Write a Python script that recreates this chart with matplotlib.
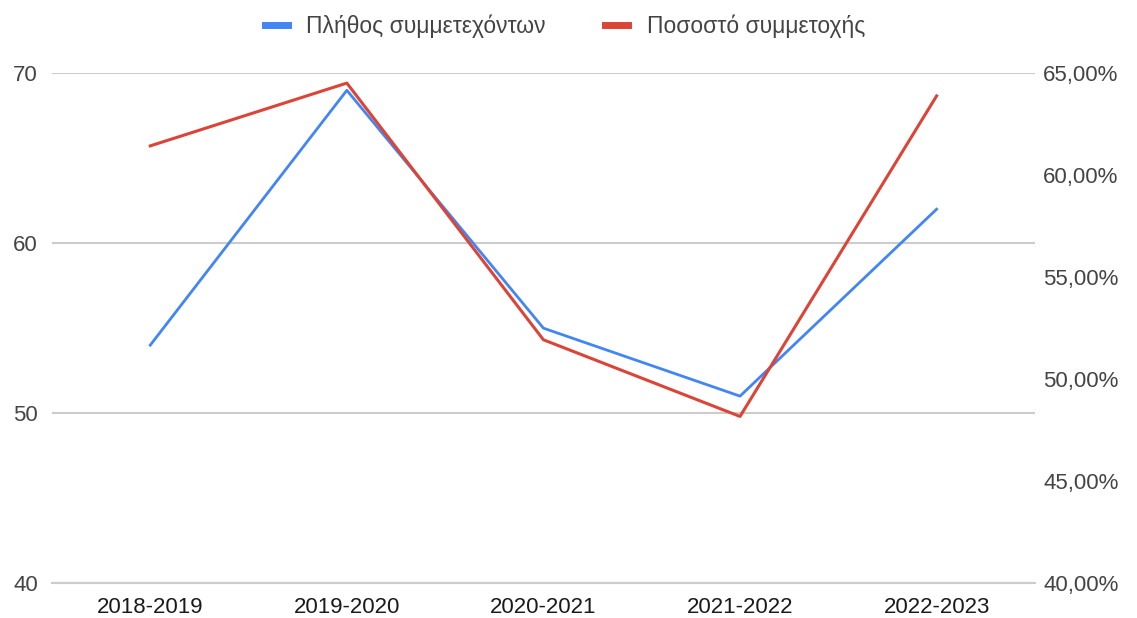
import matplotlib.pyplot as plt
from matplotlib.ticker import FuncFormatter
from matplotlib.lines import Line2D

plt.rcParams['font.family'] = ['Liberation Sans', 'DejaVu Sans']

years = ['2018-2019', '2019-2020', '2020-2021', '2021-2022', '2022-2023']
participants = [54, 69, 55, 51, 62]
rate = [61.44, 64.52, 51.93, 48.17, 63.89]

blue = '#4285F4'
red = '#DB4437'

fig = plt.figure(figsize=(11.37, 6.18), dpi=100)
ax = fig.add_axes([0.0457, 0.0566, 0.8645, 0.8248])
ax2 = ax.twinx()

x = range(len(years))
ax.plot(x, participants, color=blue, lw=2)
ax2.plot(x, rate, color=red, lw=2.2)

ax.set_xlim(-0.5, len(years) - 0.5)
ax.set_ylim(40, 70)
ax.set_yticks([40, 50, 60, 70])
ax2.set_ylim(40, 65)
ax2.set_yticks([40, 45, 50, 55, 60, 65])
ax2.yaxis.set_major_formatter(FuncFormatter(lambda v, p: f'{v:.2f}%'.replace('.', ',')))

ax.set_xticks(list(x))
ax.set_xticklabels(years)
ax.grid(axis='y', color='#cccccc', lw=1.5)
ax.set_axisbelow(True)
for a in (ax, ax2):
    for s in a.spines.values():
        s.set_visible(False)
    a.tick_params(length=0, labelsize=16, colors='#444444')
ax.tick_params(axis='y', pad=10)
ax2.tick_params(axis='y', pad=6)
ax.tick_params(axis='x', pad=10, labelcolor='#1a1a1a')
ax.spines['bottom'].set_visible(True)
ax.spines['bottom'].set_color('#cccccc')
ax.spines['bottom'].set_linewidth(1.5)

handles = [Line2D([], [], color=blue, lw=5), Line2D([], [], color=red, lw=5)]
fig.legend(handles, ['Πλήθος συμμετεχόντων', 'Ποσοστό συμμετοχής'],
           loc='center', bbox_to_anchor=(0.497, 0.958), ncol=2, frameon=False,
           fontsize=16.5, handlelength=1.0, handletextpad=0.8, columnspacing=2.6,
           labelcolor='#444444')

fig.savefig('out.png', dpi=100)
